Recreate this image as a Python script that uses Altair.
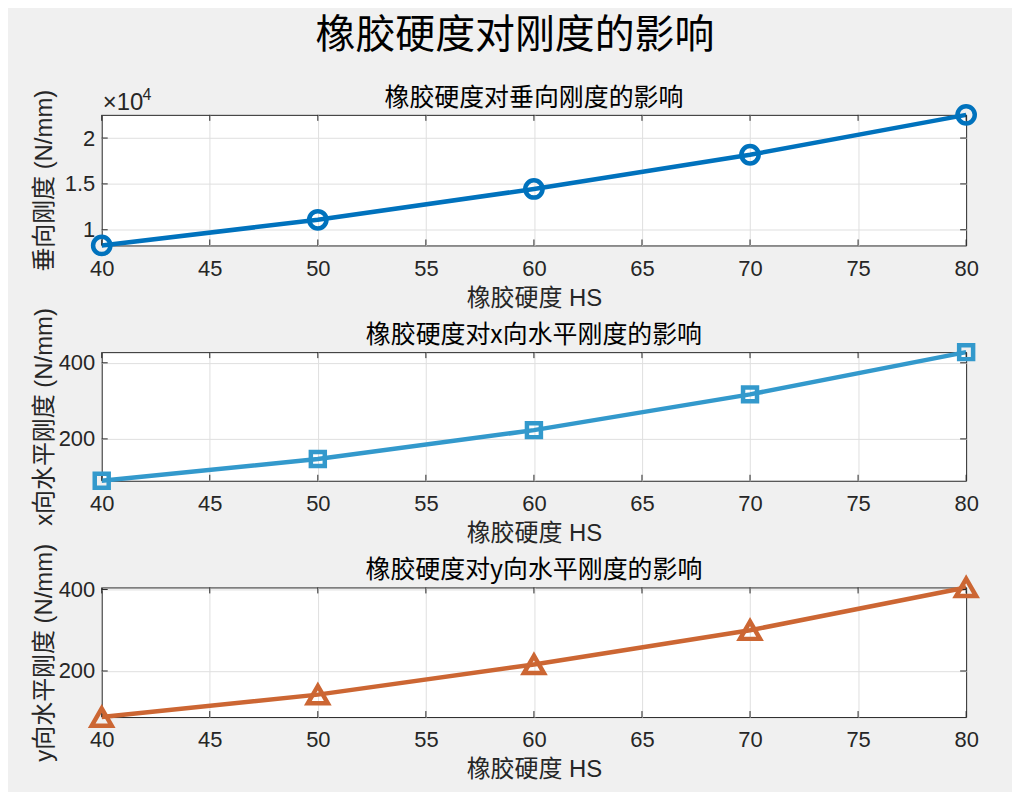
import altair as alt
import pandas as pd

# ---- data ----
hs = [40, 50, 60, 70, 80]
k_vertical = [8290, 11090, 14450, 18180, 22530]
k_x = [90, 147, 223, 317, 428]
k_y = [87, 142, 216, 300, 405]

x_ticks = [40, 45, 50, 55, 60, 65, 70, 75, 80]
y_ticks_v = [10000, 15000, 20000]
y_ticks_h = [200, 400]

main_title = "橡胶硬度对刚度的影响"
titles = ["橡胶硬度对垂向刚度的影响", "橡胶硬度对x向水平刚度的影响", "橡胶硬度对y向水平刚度的影响"]
ylabels = ["垂向刚度 (N/mm)", "x向水平刚度 (N/mm)", "y向水平刚度 (N/mm)"]
xlabel = "橡胶硬度 HS"
colors = ["#0072BD", "#3399CC", "#CC6633"]
shapes = ["circle", "square", "triangle-up"]
sizes = [300, 196, 400]
heights = [131, 129, 130]

W = 867
FONT = "Liberation Sans, Arial, Noto Sans CJK SC"
CJK = "Noto Sans CJK SC"
AX = "#262626"


def panel(values, yticks, title, ylabel, color, shape, size, h, sci=False):
    df = pd.DataFrame({"hs": hs, "k": values})
    xs = alt.Scale(domain=[40, 80], nice=False, zero=False)
    ys = alt.Scale(domain=[min(values), max(values)], nice=False, zero=False)
    xaxis = alt.Axis(
        values=x_ticks, title=xlabel, grid=True, ticks=False, domain=False,
        labelPadding=13, labelFlush=False, titleY=60, titleBaseline="alphabetic",
        gridOpacity={"condition": {"test": "datum.value <= 40 || datum.value >= 80", "value": 0}, "value": 1},
    )
    yaxis_kw = dict(
        values=yticks, title=ylabel, grid=True, ticks=False, domain=False,
        labelPadding=7, labelFlush=False, titleAngle=270, titleX=-50, titleY=h / 2,
        titleBaseline="alphabetic", titleAlign="center",
    )
    if sci:
        yaxis_kw["labelExpr"] = "format(datum.value / 10000, '~g')"
    yaxis = alt.Axis(**yaxis_kw)

    line = alt.Chart(df).mark_line(color=color, strokeWidth=4.5).encode(
        x=alt.X("hs:Q", scale=xs, axis=xaxis),
        y=alt.Y("k:Q", scale=ys, axis=yaxis),
    )
    pts = alt.Chart(df).mark_point(
        shape=shape, size=size, filled=False, color=color, strokeWidth=4.5, opacity=1
    ).encode(x="hs:Q", y="k:Q")

    xt = pd.DataFrame({"hs": x_ticks})
    yt = pd.DataFrame({"k": yticks})
    tick_bottom = alt.Chart(xt).mark_rule(color=AX, strokeWidth=1).encode(
        x="hs:Q", y=alt.value(h), y2=alt.value(h - 6))
    tick_top = alt.Chart(xt).mark_rule(color=AX, strokeWidth=1).encode(
        x="hs:Q", y=alt.value(0), y2=alt.value(6))
    tick_left = alt.Chart(yt).mark_rule(color=AX, strokeWidth=1).encode(
        y="k:Q", x=alt.value(0), x2=alt.value(6))
    tick_right = alt.Chart(yt).mark_rule(color=AX, strokeWidth=1).encode(
        y="k:Q", x=alt.value(W - 6), x2=alt.value(W))

    ttl = alt.Chart(pd.DataFrame({"t": [title]})).mark_text(
        align="center", baseline="alphabetic", fontSize=25, font=CJK, color="black"
    ).encode(x=alt.value(W / 2), y=alt.value(-9), text="t:N")

    layers = [line, tick_bottom, tick_top, tick_left, tick_right, pts, ttl]
    if sci:
        t1 = alt.Chart(pd.DataFrame({"t": ["×10"]})).mark_text(
            align="left", baseline="alphabetic", fontSize=24, font=FONT, color=AX
        ).encode(x=alt.value(1), y=alt.value(-5), text="t:N")
        t2 = alt.Chart(pd.DataFrame({"t": ["4"]})).mark_text(
            align="left", baseline="alphabetic", fontSize=16, font=FONT, color=AX
        ).encode(x=alt.value(41), y=alt.value(-15), text="t:N")
        layers += [t1, t2]

    return alt.layer(*layers).properties(width=W, height=h)


p1 = panel(k_vertical, y_ticks_v, titles[0], ylabels[0], colors[0], shapes[0], sizes[0], heights[0], sci=True)
p2 = panel(k_x, y_ticks_h, titles[1], ylabels[1], colors[1], shapes[1], sizes[1], heights[1])
p3 = panel(k_y, y_ticks_h, titles[2], ylabels[2], colors[2], shapes[2], sizes[2], heights[2])

chart = alt.vconcat(p1, p2, p3, spacing=107, bounds="flush").properties(
    title=alt.Title(main_title, font=CJK, fontSize=40, fontWeight="normal", color="black",
                    anchor="middle", offset=30, dx=6),
    padding={"left": 24, "top": 6, "right": 26, "bottom": 8},
    background="#f0f0f0",
).configure_view(
    stroke=AX, strokeWidth=1, fill="white"
).configure_axis(
    labelFont=FONT, labelFontSize=22, labelColor=AX,
    titleFont=FONT, titleFontSize=24, titleFontWeight="normal", titleColor=AX,
    gridColor="#dfdfdf", gridWidth=1,
)

chart.save("out.html", embed_options={"renderer": "svg", "actions": False})
